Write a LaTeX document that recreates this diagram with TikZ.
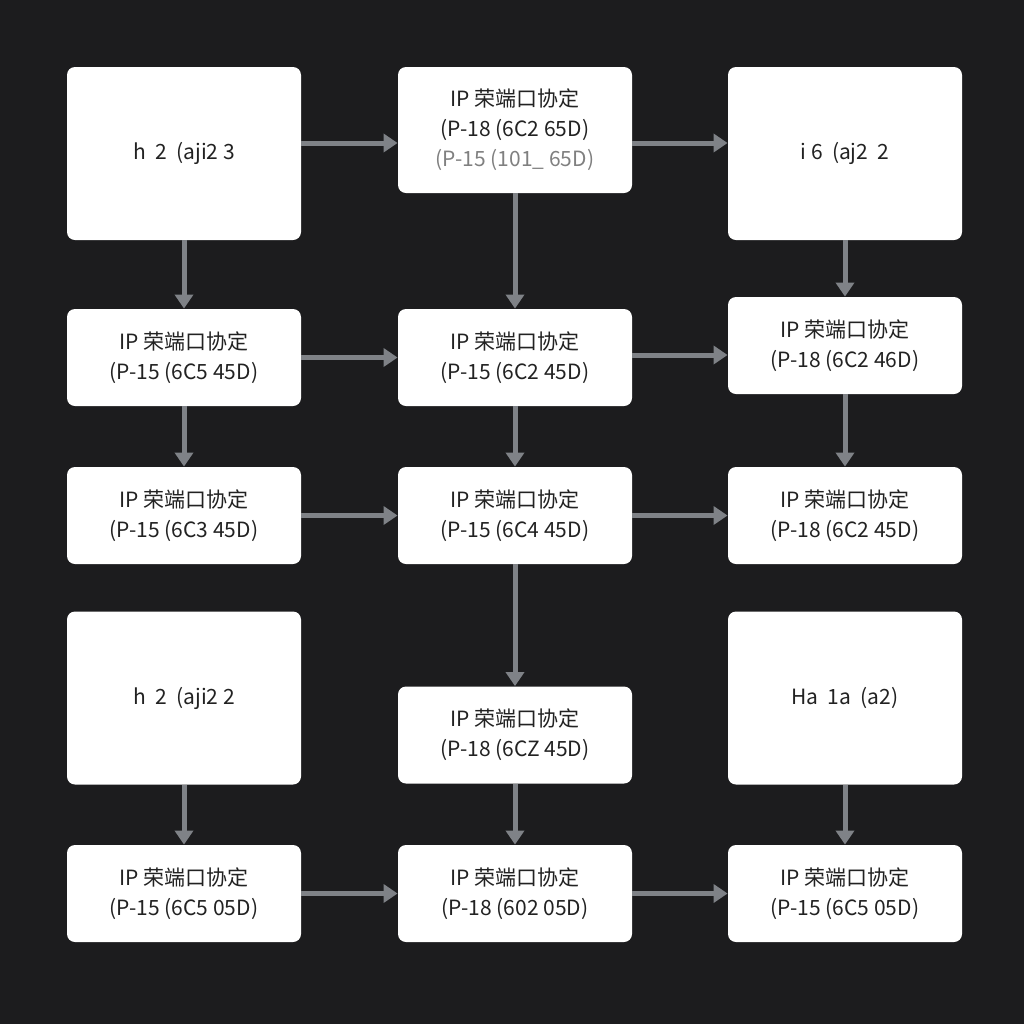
\documentclass[tikz,border=0pt]{standalone}
\usepackage{fontspec}
\setmainfont{Noto Sans CJK SC}
\usetikzlibrary{arrows.meta}
\definecolor{bgdark}{HTML}{1C1C1E}
\definecolor{arrowgray}{HTML}{7F8287}
\definecolor{textgray}{HTML}{222222}
\begin{document}
\begin{tikzpicture}[x=0.5pt,y=-0.5pt,
		box/.style={draw=none,fill=white,rounded corners=4pt,minimum width=117pt,
			align=center,font=\fontsize{10.5}{15}\selectfont,text=textgray},
		small/.style={box,minimum height=48.5pt},
		big/.style={box,minimum height=86.5pt},
		mid/.style={box,minimum height=63pt},
		link/.style={draw=arrowgray,line width=2.5pt,-{Triangle[length=7pt,width=9pt]}}]
		\fill[bgdark] (0,0) rectangle (1024,1024);
		% top row
		\node[big] (a1) at (184,153.5) {h\ \ 2\ \ (aji2\ 3};
		\node[mid] (b1) at (515,130) {IP 荣端口协定\\(P-18 (6C2 65D)\\{\color{gray}(P-15 (101\_ 65D)}};
		\node[big] (c1) at (845,153.5) {i 6\ \ (aj2\ \ 2};
		% second row
		\node[small] (a2) at (184,357.5) {IP 荣端口协定\\(P-15 (6C5 45D)};
		\node[small] (b2) at (515,357.5) {IP 荣端口协定\\(P-15 (6C2 45D)};
		\node[small] (c2) at (845,345.5) {IP 荣端口协定\\(P-18 (6C2 46D)};
		% third row
		\node[small] (a3) at (184,515.5) {IP 荣端口协定\\(P-15 (6C3 45D)};
		\node[small] (b3) at (515,515.5) {IP 荣端口协定\\(P-15 (6C4 45D)};
		\node[small] (c3) at (845,515.5) {IP 荣端口协定\\(P-18 (6C2 45D)};
		% fourth row
		\node[big] (a4) at (184,698) {h\ \ 2\ \ (aji2\ 2};
		\node[small] (b4) at (515,735) {IP 荣端口协定\\(P-18 (6CZ 45D)};
		\node[big] (c4) at (845,698) {Ha\ \ 1a\ \ (a2)};
		% bottom row
		\node[small] (a5) at (184,893.5) {IP 荣端口协定\\(P-15 (6C5 05D)};
		\node[small] (b5) at (515,893.5) {IP 荣端口协定\\(P-18 (602 05D)};
		\node[small] (c5) at (845,893.5) {IP 荣端口协定\\(P-15 (6C5 05D)};
		% connectors
		\draw[link] (a1.east|-0,143) -- (b1.west|-0,143);
		\draw[link] (b1.east|-0,143) -- (c1.west|-0,143);
		\draw[link] (a2) -- (b2);
		\draw[link] (b2.east|-0,355) -- (c2.west|-0,355);
		\draw[link] (a3) -- (b3);
		\draw[link] (b3) -- (c3);
		\draw[link] (a5) -- (b5);
		\draw[link] (b5) -- (c5);
		\draw[link] (a1) -- (a2);
		\draw[link] (b1) -- (b2);
		\draw[link] (c1) -- (c2);
		\draw[link] (a2) -- (a3);
		\draw[link] (b2) -- (b3);
		\draw[link] (c2) -- (c3);
		\draw[link] (b3) -- (b4);
		\draw[link] (a4) -- (a5);
		\draw[link] (b4) -- (b5);
		\draw[link] (c4) -- (c5);
	\end{tikzpicture}
\end{document}
